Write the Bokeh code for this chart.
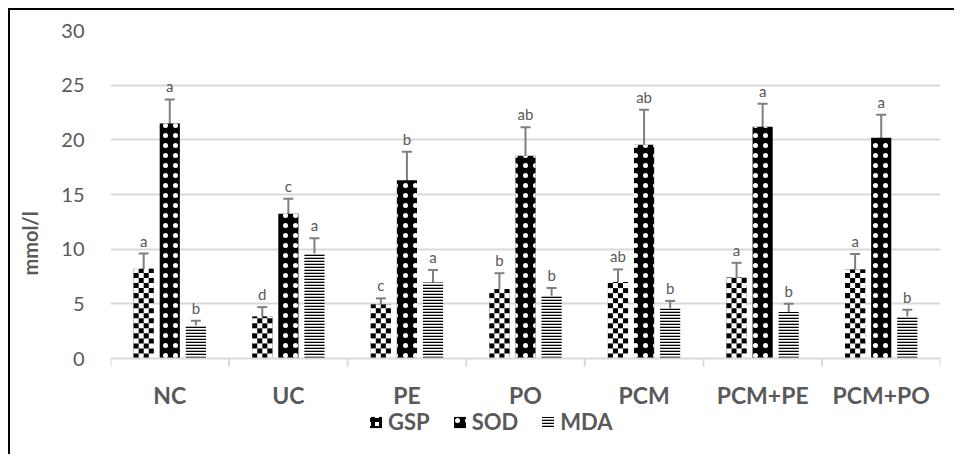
from bokeh.plotting import figure
from bokeh.models import (Range1d, FixedTicker, ColumnDataSource, Whisker, TeeHead,
                          Legend, LegendItem, Span)
from bokeh.core.properties import value
from bokeh.embed import file_html
from bokeh.resources import INLINE

# ---- data ----
categories = ["NC", "UC", "PE", "PO", "PCM", "PCM+PE", "PCM+PO"]
gsp = [8.2, 3.85, 4.95, 6.35, 7.0, 7.4, 8.15]
gsp_err = [1.4, 0.85, 0.55, 1.45, 1.15, 1.35, 1.4]
gsp_sig = ["a", "d", "c", "b", "ab", "a", "a"]
sod = [21.5, 13.25, 16.3, 18.55, 19.55, 21.2, 20.2]
sod_err = [2.2, 1.35, 2.6, 2.6, 3.2, 2.1, 2.1]
sod_sig = ["a", "c", "b", "ab", "ab", "a", "a"]
mda = [3.05, 9.6, 6.95, 5.75, 4.6, 4.25, 3.85]
mda_err = [0.4, 1.4, 1.15, 0.7, 0.67, 0.75, 0.6]
mda_sig = ["b", "a", "a", "b", "b", "b", "b"]
y_ticks = [0, 5, 10, 15, 20, 25, 30]

TXT = "#595959"
GRID = "#d9d9d9"
ERR = "#7f7f7f"
FONT = "Lato"

# layout (pixels)
W, H = 946, 446
LEFT, TOP, RIGHT = 100, 20, 16
PLOT_H = 328                       # pixel height of the 0..30 span
frame_h = H - TOP
px_per_unit = PLOT_H / 30.0
ymin = 30 - frame_h / px_per_unit  # extra room below 0 for labels and legend

p = figure(width=W, height=H, output_backend="svg", toolbar_location=None,
           x_axis_location=None,
           x_range=Range1d(-0.5, len(categories) - 0.5), y_range=Range1d(ymin, 30),
           min_border_left=LEFT, min_border_right=RIGHT, min_border_top=TOP,
           min_border_bottom=0)
p.styles = {"margin-left": "8px", "margin-top": "8px",
            "border-top": "2px solid black", "border-left": "2px solid black",
            "border-right": "none", "border-bottom": "none"}
p.outline_line_color = None
p.background_fill_color = "white"
p.border_fill_color = "white"

# y axis
p.yaxis.ticker = FixedTicker(ticks=y_ticks)
p.yaxis.axis_line_color = None
p.yaxis.major_tick_line_color = None
p.yaxis.minor_tick_line_color = None
p.yaxis.major_tick_out = 0
p.yaxis.major_label_text_font = FONT
p.yaxis.major_label_text_font_size = "20px"
p.yaxis.major_label_text_color = TXT
p.yaxis.major_label_standoff = 26
p.yaxis.axis_label = "mmol/l"
p.yaxis.axis_label_text_font = FONT
p.yaxis.axis_label_text_font_style = "bold"
p.yaxis.axis_label_text_font_size = "20px"
p.yaxis.axis_label_text_color = TXT
p.yaxis.axis_label_standoff = 16

p.xgrid.grid_line_color = None
p.ygrid.ticker = FixedTicker(ticks=y_ticks[1:])
p.ygrid.grid_line_color = GRID
p.ygrid.grid_line_width = 2

# category axis (baseline, separator ticks, labels)
idx = list(range(len(categories)))
p.add_layout(Span(location=0, dimension="width", line_color=GRID, line_width=2))
seps = [i - 0.5 for i in range(len(categories) + 1)]
tick_len = 8 / px_per_unit
p.segment(x0=seps, y0=[0] * len(seps), x1=seps, y1=[-tick_len] * len(seps),
          line_color=GRID, line_width=2)
p.text(x=idx, y=[0] * len(idx), text=categories, text_align="center",
       text_baseline="middle", y_offset=36, text_font=value(FONT),
       text_font_style="bold", text_font_size="23px", text_color=TXT)

off = 0.22
bw = 0.17
gsp_x = [i - off for i in idx]

# hidden-under copy of the GSP bars that supplies the legend swatch pattern
r_gsp_icon = p.vbar(x=gsp_x, top=gsp, bottom=0, width=bw, fill_color="white",
                    line_color=None, hatch_pattern="+", hatch_color="black",
                    hatch_scale=8, hatch_weight=4)

# ---- GSP: white bars with a checkerboard of black cells ----
ncol = 4
cell_h = 0.46
p.vbar(x=gsp_x, top=gsp, bottom=0, width=bw, fill_color="white", line_color=None)
cx, cy, ch = [], [], []
cw = bw / ncol
for xc, v in zip(gsp_x, gsp):
    row = 0
    while row * cell_h < v:
        y0 = row * cell_h
        h = min(cell_h, v - y0)
        for c in range(ncol):
            if (row + c) % 2 == 0:
                cx.append(xc - bw / 2 + (c + 0.5) * cw)
                cy.append(y0 + h / 2)
                ch.append(h)
        row += 1
p.rect(x=cx, y=cy, width=cw, height=ch, fill_color="black", line_color=None)

# ---- SOD ----
r_sod = p.vbar(x=idx, top=sod, bottom=0, width=bw, fill_color="black",
               line_color=None, hatch_pattern=".", hatch_color="white", hatch_scale=10,
               hatch_weight=1)
# ---- MDA ----
r_mda = p.vbar(x=[i + off for i in idx], top=mda, bottom=0, width=bw, fill_color="white",
               line_color=None, hatch_pattern="-", hatch_color="black", hatch_scale=3,
               hatch_weight=1.6)

for vals, errs, sigs, dx in [(gsp, gsp_err, gsp_sig, -off), (sod, sod_err, sod_sig, 0.0),
                             (mda, mda_err, mda_sig, off)]:
    src = ColumnDataSource(dict(
        x=[i + dx for i in idx],
        upper=[v + e for v, e in zip(vals, errs)],
        lower=[v - e for v, e in zip(vals, errs)],
        sig=sigs))
    w = Whisker(source=src, base="x", upper="upper", lower="lower", dimension="height",
                line_color=ERR, line_width=2,
                upper_head=TeeHead(size=10, line_color=ERR, line_width=2),
                lower_head=TeeHead(size=10, line_color=ERR, line_width=2))
    p.add_layout(w)
    p.text(x="x", y="upper", text="sig", source=src, text_align="center",
           text_baseline="bottom", y_offset=-4, text_font=value(FONT),
           text_font_size="15px", text_color=TXT)

items = [LegendItem(label="GSP", renderers=[r_gsp_icon]),
         LegendItem(label="SOD", renderers=[r_sod]),
         LegendItem(label="MDA", renderers=[r_mda])]
legend = Legend(items=items, orientation="horizontal", location=(258, 21),
                label_text_font=FONT, label_text_font_style="bold",
                label_text_font_size="22px", label_text_color=TXT,
                glyph_width=15, glyph_height=14, label_standoff=5, spacing=22,
                border_line_color=None, background_fill_alpha=0, padding=0, margin=0)
p.add_layout(legend)

open("out.html", "w").write(file_html(p, INLINE))
